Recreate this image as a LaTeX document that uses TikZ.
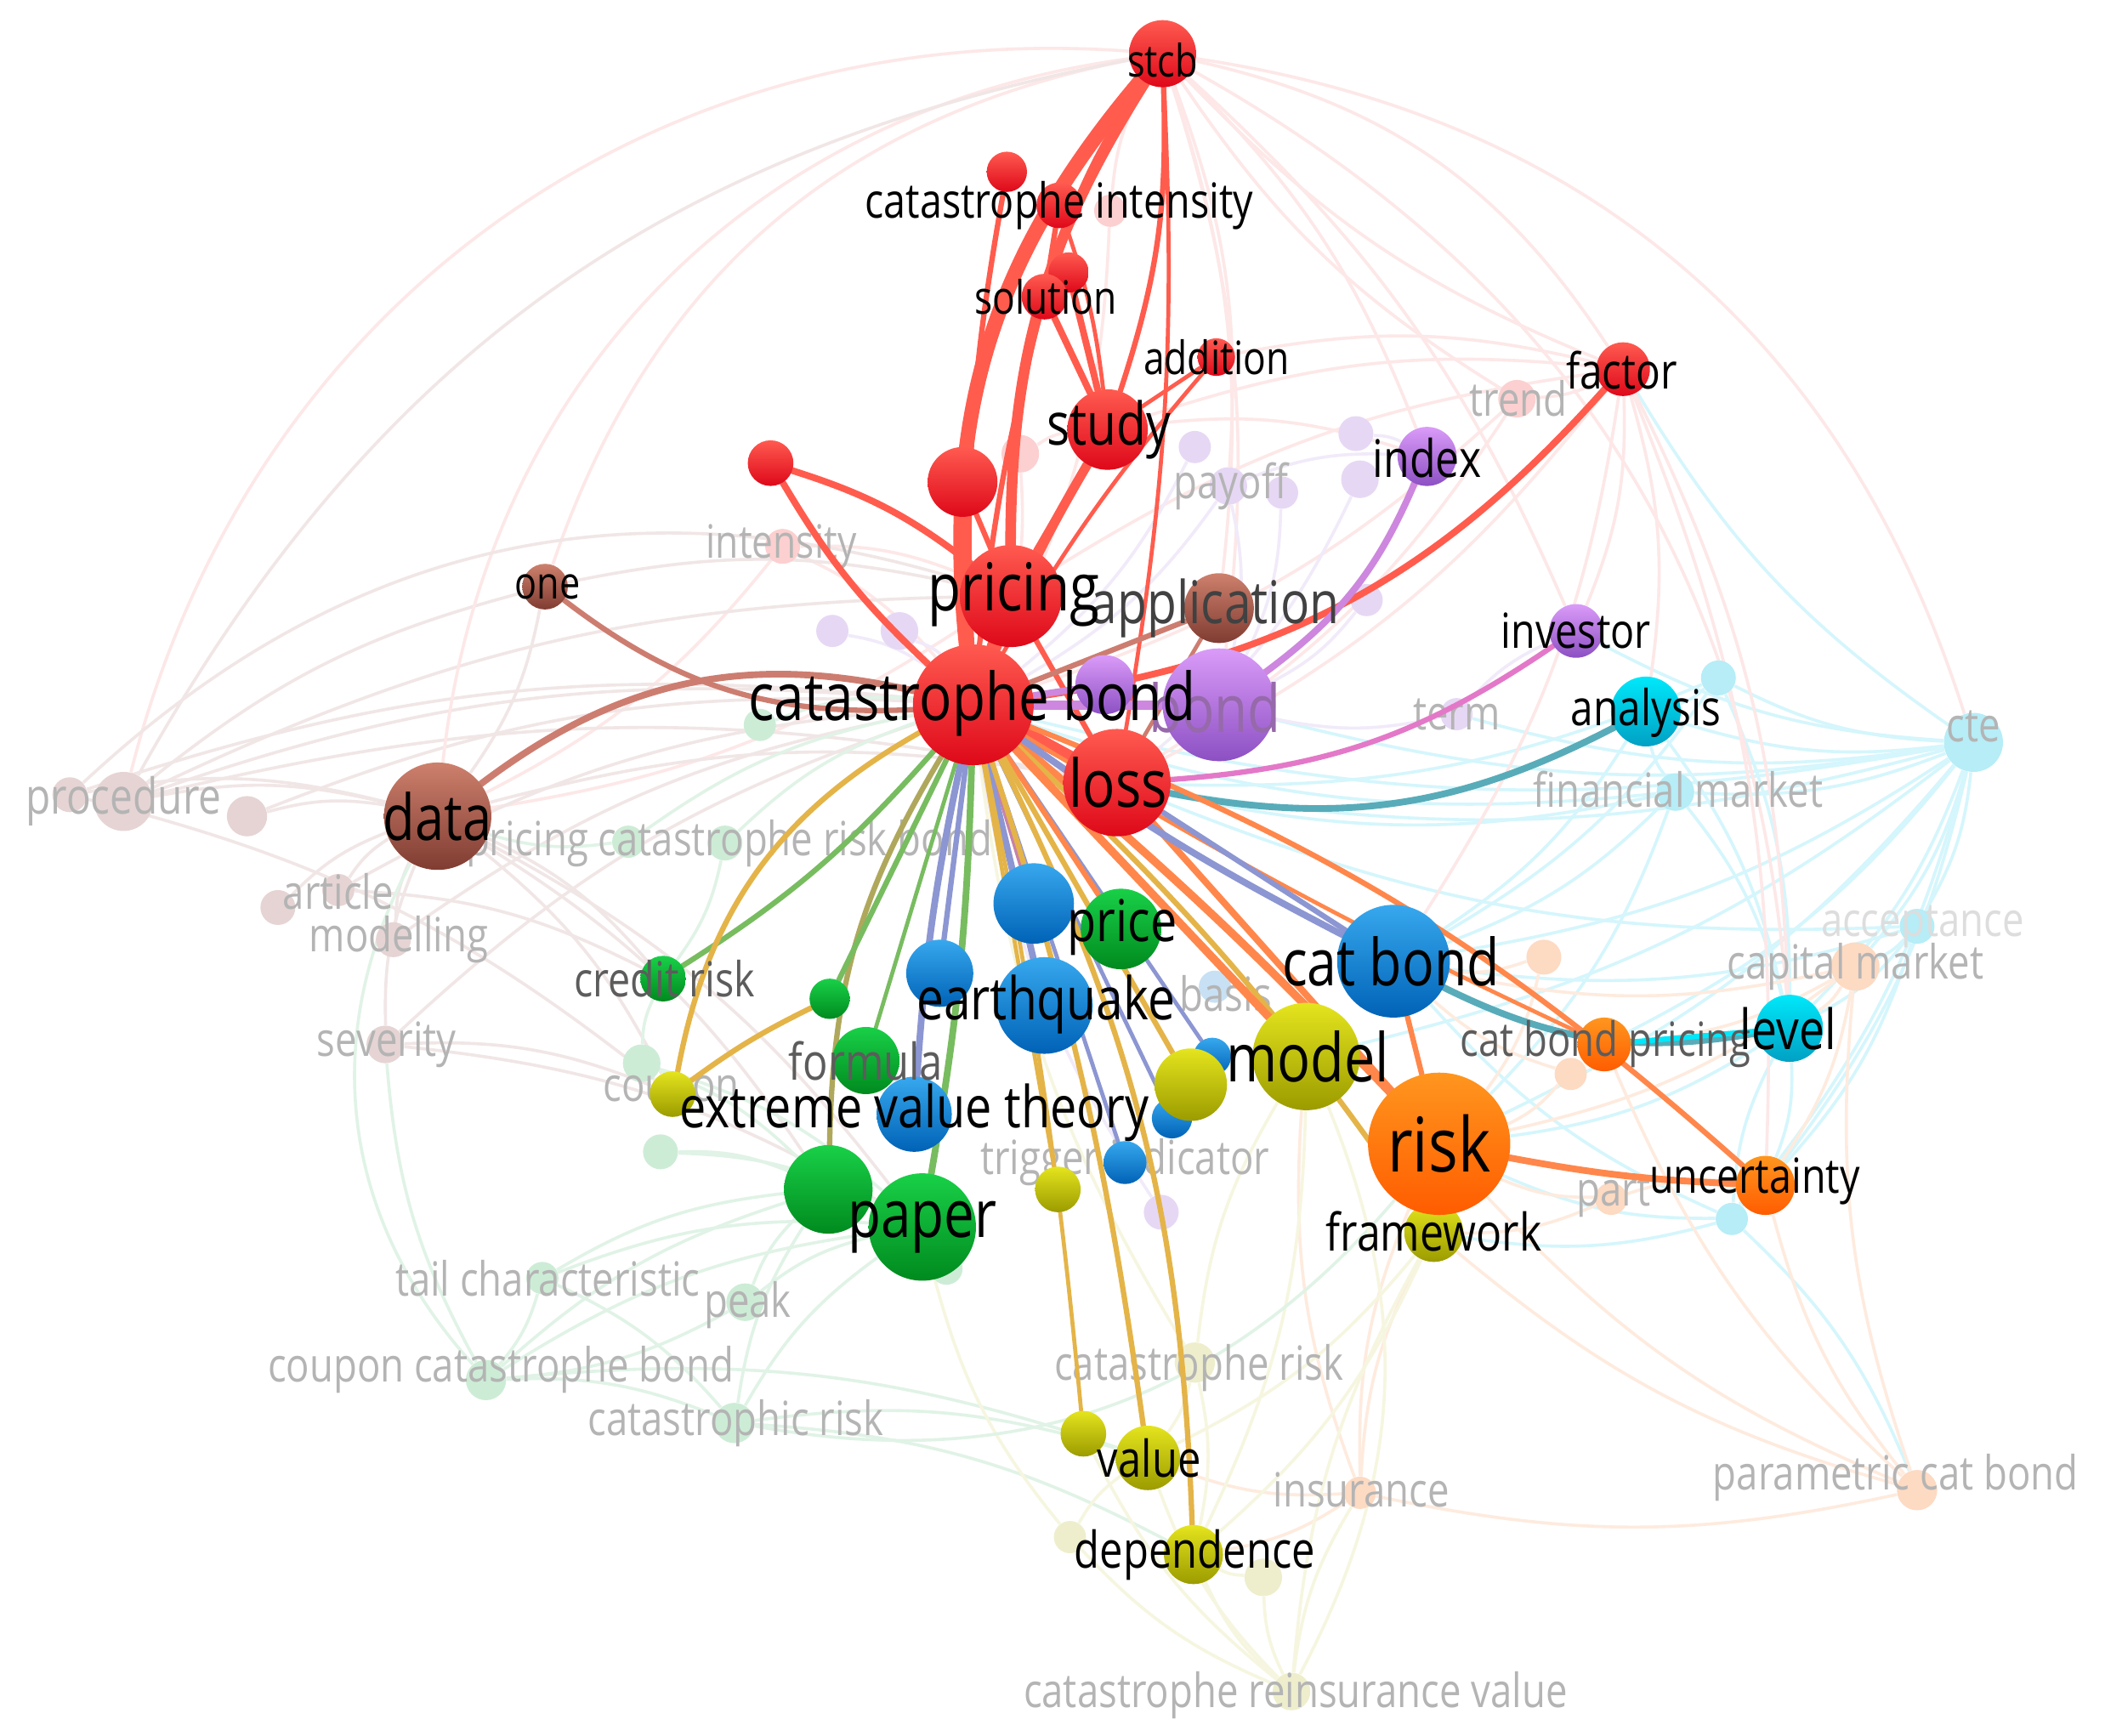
\documentclass[tikz,border=0pt]{standalone}
\usepackage{fontspec}
\newfontfamily\labfont[FakeStretch=0.82]{Open Sans}
\newcommand\LB[1]{\labfont\fontsize{#1pt}{#1pt}\selectfont}
\pgfdeclarelayer{bgw}\pgfdeclarelayer{fedge}\pgfdeclarelayer{fnode}\pgfdeclarelayer{sedge}\pgfdeclarelayer{labels}
\pgfsetlayers{bgw,fedge,fnode,sedge,main,labels}
% node colours (top / bottom)
\definecolor{RT}{RGB}{255,90,80}\definecolor{RB}{RGB}{222,8,25}
\definecolor{PT}{RGB}{218,155,248}\definecolor{PB}{RGB}{140,80,195}
\definecolor{BrT}{RGB}{205,128,108}\definecolor{BrB}{RGB}{128,60,50}
\definecolor{CT}{RGB}{0,232,250}\definecolor{CB}{RGB}{0,160,195}
\definecolor{OT}{RGB}{255,150,30}\definecolor{OB}{RGB}{255,92,0}
\definecolor{BlT}{RGB}{55,168,238}\definecolor{BlB}{RGB}{0,98,182}
\definecolor{GT}{RGB}{25,208,72}\definecolor{GB}{RGB}{0,138,30}
\definecolor{YT}{RGB}{228,228,30}\definecolor{YB}{RGB}{155,155,0}
% faint node colours
\definecolor{RF}{RGB}{252,208,208}\definecolor{PF}{RGB}{230,216,244}
\definecolor{BrF}{RGB}{230,212,212}\definecolor{CF}{RGB}{182,237,247}
\definecolor{OF}{RGB}{253,218,194}\definecolor{BlF}{RGB}{200,224,244}
\definecolor{GF}{RGB}{205,236,214}\definecolor{YF}{RGB}{238,238,205}
% faint edge colours
\definecolor{fR}{RGB}{253,231,231}\definecolor{fP}{RGB}{241,234,249}
\definecolor{fBr}{RGB}{241,230,230}\definecolor{fC}{RGB}{212,246,252}
\definecolor{fO}{RGB}{254,235,222}\definecolor{fG}{RGB}{224,243,230}
\definecolor{fY}{RGB}{246,246,224}
% strong edge colours
\definecolor{eR}{RGB}{255,92,78}\definecolor{eO}{RGB}{255,135,75}
\definecolor{eBr}{RGB}{205,125,112}\definecolor{eP}{RGB}{205,135,222}
\definecolor{ePk}{RGB}{228,120,200}\definecolor{eT}{RGB}{88,172,185}
\definecolor{eBl}{RGB}{140,150,210}\definecolor{eG}{RGB}{120,188,96}
\definecolor{eY}{RGB}{228,180,72}\definecolor{eOl}{RGB}{175,168,92}
\definecolor{eRB}{RGB}{200,130,170}
% label colours
\definecolor{fl}{RGB}{180,180,180}\definecolor{dl}{RGB}{92,92,92}
\definecolor{bl}{RGB}{150,105,170}
\tikzset{
  nd/.style 2 args={circle, draw=none, inner sep=0pt, minimum size=#2*0.04cm, top color=#1T, bottom color=#1B},
  fn/.style 2 args={circle, draw=none, inner sep=0pt, minimum size=#2*0.04cm, fill=#1F},
  lb/.style={font=\LB{#1}, text=black, inner sep=0pt},
  flb/.style={font=\LB{#1}, text=fl, inner sep=0pt},
  se/.style 2 args={draw=#1, line width=#2*0.567pt, line cap=round},
  fe/.style={draw=#1, line width=1.3pt},
}
\begin{document}
\begin{tikzpicture}[x=0.02cm,y=-0.02cm]
\begin{pgfonlayer}{bgw}
\fill[white] (0,0) rectangle (1568,1293);
\end{pgfonlayer}
\useasboundingbox (0,0) rectangle (1568,1293);

% ---------------- faint nodes ----------------
\begin{pgfonlayer}{fnode}
\node[fn={R}{14}] (trend) at (1130,297) {};
\node[fn={R}{14}] (r1) at (760,338) {};
\node[fn={R}{12}] (r2) at (827,157) {};
\node[fn={R}{13}] (inten) at (583,407) {};
\node[fn={P}{12}] (p1) at (890,333) {};
\node[fn={P}{14}] (payoff) at (915,362) {};
\node[fn={P}{12}] (p3) at (955,367) {};
\node[fn={P}{13}] (p4) at (1010,323) {};
\node[fn={P}{14}] (p5) at (1013,357) {};
\node[fn={P}{12}] (p6) at (1018,447) {};
\node[fn={P}{12}] (p7) at (620,470) {};
\node[fn={P}{14}] (p8) at (670,470) {};
\node[fn={P}{12}] (term) at (1085,532) {};
\node[fn={P}{13}] (p9) at (865,903) {};
\node[fn={Br}{13}] (br1) at (52,592) {};
\node[fn={Br}{22}] (proc) at (92,597) {};
\node[fn={Br}{15}] (br3) at (184,608) {};
\node[fn={Br}{13}] (br4) at (207,676) {};
\node[fn={Br}{12}] (article) at (252,663) {};
\node[fn={Br}{13}] (modl) at (293,700) {};
\node[fn={Br}{14}] (sev) at (287,778) {};
\node[fn={C}{22}] (cte) at (1470,553) {};
\node[fn={C}{13}] (c1) at (1280,505) {};
\node[fn={C}{14}] (finm) at (1248,590) {};
\node[fn={C}{13}] (accp) at (1428,690) {};
\node[fn={C}{12}] (c5) at (1290,908) {};
\node[fn={O}{18}] (capm) at (1382,720) {};
\node[fn={O}{13}] (o2) at (1150,713) {};
\node[fn={O}{12}] (o3) at (1170,800) {};
\node[fn={O}{12}] (part) at (1200,893) {};
\node[fn={O}{12}] (ins) at (1013,1112) {};
\node[fn={O}{15}] (param) at (1428,1110) {};
\node[fn={Bl}{12}] (basis) at (905,735) {};
\node[fn={G}{14}] (g1) at (478,792) {};
\node[fn={G}{13}] (g2) at (492,858) {};
\node[fn={G}{12}] (g3) at (468,627) {};
\node[fn={G}{13}] (g4) at (540,628) {};
\node[fn={G}{12}] (g5) at (566,540) {};
\node[fn={G}{12}] (tail) at (404,952) {};
\node[fn={G}{14}] (peak) at (555,970) {};
\node[fn={G}{15}] (ccb) at (362,1028) {};
\node[fn={G}{15}] (catr) at (547,1060) {};
\node[fn={G}{12}] (g10) at (705,945) {};
\node[fn={Y}{15}] (catrisk) at (890,1015) {};
\node[fn={Y}{12}] (y1) at (797,1145) {};
\node[fn={Y}{14}] (y2) at (941,1175) {};
\node[fn={Y}{14}] (crv) at (962,1260) {};
\end{pgfonlayer}

% ---------------- main nodes ----------------
% red
\node[nd={R}{25}] (stcb) at (866,40) {};
\node[nd={R}{15}] (rC) at (750,128) {};
\node[nd={R}{17}] (ci) at (789,153) {};
\node[nd={R}{15}] (rD) at (796,203) {};
\node[nd={R}{17}] (sol) at (778,221) {};
\node[nd={R}{14}] (add) at (906,266) {};
\node[nd={R}{20}] (factor) at (1209,275) {};
\node[nd={R}{30}] (study) at (825,320) {};
\node[nd={R}{17}] (rB) at (574,345) {};
\node[nd={R}{26}] (rA) at (717,359) {};
\node[nd={R}{38}] (pricing) at (753,444) {};
% brown
\node[nd={Br}{17}] (one) at (406,437) {};
\node[nd={Br}{40}] (data) at (326,608) {};
\node[nd={Br}{26}] (app) at (908,453) {};
% purple
\node[nd={P}{22}] (index) at (1063,340) {};
\node[nd={P}{20}] (investor) at (1174,470) {};
\node[nd={R}{45}] (cb) at (725,525) {};
\node[nd={P}{22}] (pS) at (823,510) {};
\node[nd={P}{42}] (bond) at (908,525) {};
\node[nd={R}{40}] (loss) at (832,583) {};
% cyan
\node[nd={C}{26}] (analysis) at (1226,530) {};
\node[nd={C}{25}] (level) at (1333,766) {};
% orange
\node[nd={O}{20}] (cbp) at (1195,778) {};
\node[nd={O}{22}] (unc) at (1315,883) {};
% green / blue / yellow
\node[nd={G}{17}] (credit) at (494,729) {};
\node[nd={G}{15}] (gA) at (618,744) {};
\node[nd={Y}{17}] (coupon) at (501,815) {};
\node[nd={Bl}{30}] (bA) at (770,673) {};
\node[nd={G}{30}] (price) at (835,692) {};
\node[nd={Bl}{25}] (bB) at (700,725) {};
\node[nd={G}{25}] (formula) at (645,790) {};
\node[nd={Bl}{36}] (eq) at (778,749) {};
\node[nd={Bl}{28}] (evt) at (681,830) {};
\node[nd={Bl}{14}] (bC) at (903,787) {};
\node[nd={Bl}{15}] (bD) at (873,833) {};
\node[nd={Bl}{16}] (trig) at (838,866) {};
\node[nd={Y}{27}] (yA) at (887,808) {};
\node[nd={Y}{17}] (yB) at (788,886) {};
\node[nd={G}{33}] (gB) at (617,886) {};
\node[nd={G}{40}] (paper) at (687,914) {};
\node[nd={Bl}{42}] (cbond) at (1038,716) {};
\node[nd={Y}{40}] (model) at (973,787) {};
\node[nd={Y}{22}] (fw) at (1068,918) {};
\node[nd={O}{53}] (risk) at (1072,852) {};
\node[nd={Y}{17}] (yC) at (807,1068) {};
\node[nd={Y}{24}] (value) at (855,1086) {};
\node[nd={Y}{22}] (dep) at (889,1158) {};

% ---------------- faint edges ----------------
\begin{pgfonlayer}{fedge}
\foreach \a/\b/\c in {
 cte/analysis/fC, cte/level/fC, cte/cbond/fC, cte/loss/fC, cte/factor/fC, cte/finm/fC,
 cte/accp/fC, cte/cbp/fC, cte/risk/fC, cte/unc/fC, cte/investor/fC, cte/cb/fC, cte/bond/fC,
 cte/c1/fC, cte/capm/fC, cte/model/fC, cte/c5/fC, cte/term/fC,
 finm/cb/fC, finm/loss/fC, finm/level/fC, finm/cbond/fC, finm/analysis/fC, finm/risk/fC,
 accp/level/fC, accp/capm/fC, accp/cbond/fC, accp/unc/fC, accp/loss/fC,
 c1/analysis/fC, c1/loss/fC, c1/cbond/fC, c1/level/fC,
 c5/unc/fC, c5/level/fC, c5/risk/fC, c5/param/fC, c5/fw/fC, c5/cbond/fC,
 analysis/level/fC, analysis/cbond/fC, level/risk/fC, level/unc/fC,
 param/unc/fO, param/risk/fO, param/capm/fO, param/ins/fO, param/fw/fO, param/cbp/fO,
 ins/dep/fO, ins/risk/fO, ins/value/fO, ins/fw/fO, ins/model/fO,
 capm/level/fO, capm/cbp/fO, capm/risk/fO, capm/unc/fO, capm/cbond/fO,
 part/risk/fO, part/unc/fO, part/fw/fO, o2/cbond/fO, o2/risk/fO, o3/risk/fO, o3/cbond/fO,
 factor/stcb/fR, factor/loss/fR, factor/level/fR, factor/analysis/fR, factor/investor/fR,
 factor/trend/fR, factor/cbond/fR, factor/unc/fR, trend/cb/fR, trend/loss/fR, trend/stcb/fR,
 stcb/index/fR, stcb/investor/fR, stcb/payoff/fR, stcb/app/fR, stcb/bond/fR,
 r1/cb/fR, r1/study/fR, r2/stcb/fR, r2/cb/fR, inten/cb/fR, inten/pricing/fR, inten/data/fR,
 study/factor/fR, study/index/fR, pricing/factor/fR, add/factor/fR, pricing/data/fR,
 proc/data/fBr, proc/cb/fBr, proc/one/fBr, proc/loss/fBr, proc/pricing/fBr,
 br1/data/fBr, br1/coupon/fBr, br1/cb/fBr, br3/data/fBr, br3/cb/fBr, br4/data/fBr,
 article/data/fBr, article/cb/fBr, article/credit/fBr, modl/data/fBr, modl/cb/fBr,
 sev/data/fBr, sev/paper/fBr, sev/coupon/fBr, sev/cb/fBr, one/data/fBr, one/pricing/fBr,
 data/credit/fBr, data/coupon/fBr, data/paper/fBr, data/loss/fBr, data/gB/fBr,
 g1/credit/fG, g1/paper/fG, g1/gB/fG, g2/paper/fG, g2/gB/fG, tail/paper/fG, tail/ccb/fG, tail/gB/fG,
 peak/paper/fG, peak/ccb/fG, peak/gB/fG, ccb/paper/fG, ccb/catr/fG, ccb/gB/fG, ccb/sev/fG,
 catr/paper/fG, catr/gB/fG, catr/value/fG, g3/cb/fG, g4/cb/fG, g5/cb/fG, g10/paper/fG,
 tail/catr/fG, g4/credit/fG, g3/data/fG, catr/dep/fG, ccb/value/fG,
 catrisk/value/fY, catrisk/dep/fY, catrisk/cb/fY, crv/dep/fY, crv/value/fY, crv/yC/fY,
 crv/y2/fY, crv/y1/fY, crv/ins/fY, y1/value/fY, y2/dep/fY, catrisk/model/fY, crv/fw/fY,
 y1/paper/fY, fw/dep/fY, fw/value/fY, model/dep/fY,
 payoff/cb/fP, payoff/bond/fP, payoff/index/fP, p1/cb/fP, p4/index/fP, term/bond/fP,
 term/investor/fP, p6/bond/fP, p7/cb/fP, p8/cb/fP, p9/cb/fP, p3/bond/fP, p5/loss/fP}
 { \draw[fe=\c] (\a) to[bend left=12] (\b); }
\draw[fe=fR] (stcb) to[bend right=38] (data);
\draw[fe=fR] (stcb) to[bend right=30] (one);
\draw[fe=fR] (stcb) to[bend right=40] (proc);
\draw[fe=fR] (stcb) to[bend left=32] (cte);
\draw[fe=fR] (stcb) to[bend left=22] (factor);
\draw[fe=fR] (stcb) to[bend left=28] (level);
\draw[fe=fBr] (proc) to[bend left=25] (stcb);
\draw[fe=fBr] (br1) to[bend left=30] (pricing);
\draw[fe=fG] (ccb) to[bend left=35] (data);
\draw[fe=fG] (catr) to[bend right=30] (risk);
\draw[fe=fY] (crv) to[bend right=25] (model);
\end{pgfonlayer}

% ---------------- strong edges ----------------
\begin{pgfonlayer}{sedge}
% red
\draw[se={eR}{11}] (cb) to[bend left=23] (stcb);
\draw[se={eR}{8}] (pricing) to[bend left=16] (stcb);
\draw[se={eR}{6}] (sol) to[bend left=8] (stcb);
\draw[se={eR}{4}] (study) to[bend right=10] (stcb);
\draw[se={eR}{3}] (loss) to[bend right=6] (stcb);
\draw[se={eR}{4}] (rC) to[bend right=6] (cb);
\draw[se={eR}{4}] (ci) -- (sol);
\draw[se={eR}{3}] (ci) to[bend left=6] (study);
\draw[se={eR}{5}] (rD) -- (study);
\draw[se={eR}{4}] (sol) to[bend right=4] (cb);
\draw[se={eR}{5}] (sol) -- (study);
\draw[se={eR}{7}] (study) to[bend right=4] (cb);
\draw[se={eR}{6}] (study) -- (pricing);
\draw[se={eR}{3}] (add) to[bend right=5] (cb);
\draw[se={eR}{3}] (add) -- (study);
\draw[se={eR}{6}] (rA) -- (cb);
\draw[se={eR}{4}] (rA) -- (pricing);
\draw[se={eR}{5}] (rB) to[bend right=8] (cb);
\draw[se={eR}{5}] (rB) to[bend left=10] (pricing);
\draw[se={eR}{10}] (pricing) -- (cb);
\draw[se={eR}{4}] (pricing) -- (loss);
\draw[se={eR}{10}] (loss) -- (cb);
\draw[se={eR}{5}] (cb) to[bend right=20] (factor);
\draw[se={eBr}{5}] (cb) to[bend right=25] (data);
\draw[se={eBr}{4}] (one) to[bend right=20] (cb);
\draw[se={eBr}{4}] (app) -- (cb);
\draw[se={eBr}{3}] (app) -- (loss);
% purple
\draw[se={eP}{7}] (cb) -- (bond);
\draw[se={eP}{5}] (pS) -- (cb);
\draw[se={eP}{5}] (bond) to[bend right=15] (index);
\draw[se={ePk}{4}] (loss) to[bend right=15] (investor);
% cyan
\draw[se={eT}{5}] (loss) to[bend right=19] (analysis);
\draw[se={eT}{5}] (cbond) to[bend right=18] (level);
\draw[se={CT}{4}] (cbp) -- (level);
% orange
\draw[se={eO}{4}] (cb) to[bend left=10] (unc);
\draw[se={eO}{5}] (risk) to[bend right=4] (unc);
\draw[se={eO}{6}] (cb) to[bend left=3] (risk);
\draw[se={eO}{5}] (loss) -- (risk);
\draw[se={eO}{3}] (cb) to[bend right=3] (cbp);
\draw[se={eO}{4}] (cbond) -- (risk);
\draw[se={eY}{4}] (cb) to[bend left=6] (fw);
% blue
\draw[se={eBl}{5}] (cb) to[bend right=4] (cbond);
\draw[se={eBl}{4}] (loss) -- (cbond);
\draw[se={eRB}{5}] (cb) -- (bA);
\draw[se={eBl}{4}] (cb) -- (bB);
\draw[se={eBl}{5}] (cb) -- (eq);
\draw[se={eBl}{5}] (cb) to[bend right=4] (evt);
\draw[se={eBl}{3}] (cb) -- (bC);
\draw[se={eBl}{3}] (cb) -- (bD);
\draw[se={eBl}{3}] (cb) -- (trig);
% green
\draw[se={eO}{4}] (cb) -- (price);
\draw[se={eG}{4}] (cb) to[bend left=8] (credit);
\draw[se={eOl}{4}] (cb) to[bend right=15] (gB);
\draw[se={eG}{4}] (cb) -- (gA);
\draw[se={eG}{3}] (cb) -- (formula);
\draw[se={eG}{5}] (cb) to[bend left=4] (paper);
\draw[se={eY}{4}] (coupon) to[bend left=5] (gA);
% yellow
\draw[se={eY}{4}] (cb) to[bend right=25] (coupon);
\draw[se={eO}{6}] (cb) -- (model);
\draw[se={eY}{4}] (cb) -- (yA);
\draw[se={eY}{3}] (cb) -- (yB);
\draw[se={eY}{3}] (cb) to[bend left=3] (yC);
\draw[se={eY}{4}] (cb) to[bend left=5] (value);
\draw[se={eY}{4}] (cb) to[bend left=12] (dep);
\end{pgfonlayer}

% ---------------- labels ----------------
\begin{pgfonlayer}{fnode}
\node[flb=21] (l-proc) at (92,597) {procedure};
\node[flb=20] (l-pcrb) at (543,628) {pricing catastrophe risk bond};
\node[flb=20] (l-art) at (252,664) {article};
\node[flb=20] (l-modl) at (297,700) {modelling};
\node[flb=20] (l-sev) at (288,778) {severity};
\node[flb=19.5] (l-inten) at (582,407) {intensity};
\node[flb=20] (l-payoff) at (917,362) {payoff};
\node[flb=20] (l-term) at (1085,532) {term};
\node[flb=20] (l-trend) at (1131,297) {trend};
\node[flb=20] (l-cte) at (1470,541) {cte};
\node[flb=20] (l-finm) at (1250,588) {financial market};
\node[flb=20, text=fl!45] (l-accp) at (1432,690) {acceptance};
\node[flb=20] (l-capm) at (1382,720) {capital market};
\node[flb=20] (l-part) at (1202,891) {part};
\node[flb=20] (l-coupon) at (500,815) {coupon};
\node[flb=20] (l-basis) at (913,740) {basis};
\node[flb=20] (l-trig) at (838,866) {trigger indicator};
\node[flb=20] (l-tail) at (408,952) {tail characteristic};
\node[flb=20] (l-peak) at (557,972) {peak};
\node[flb=20] (l-ccb) at (373,1020) {coupon catastrophe bond};
\node[flb=20] (l-catr) at (548,1060) {catastrophic risk};
\node[flb=20] (l-catrisk) at (893,1019) {catastrophe risk};
\node[flb=20] (l-ins) at (1014,1110) {insurance};
\node[flb=20] (l-crv) at (965,1263) {catastrophe reinsurance value};
\node[flb=20] (l-param) at (1412,1101) {parametric cat bond};
\end{pgfonlayer}

\begin{pgfonlayer}{labels}
\node[lb=28, text=bl] (l-bond) at (905,527) {bond};
\node[lb=28] (l-cb) at (724,524) {catastrophe bond};
\node[lb=28] (l-loss) at (833,583) {loss};
\node[lb=25, text=dl!70!black] (l-app) at (905,453) {application};
\node[lb=28] (l-pricing) at (755,443) {pricing};
\node[lb=25] (l-study) at (826,320) {study};
\node[lb=19] (l-stcb) at (866,45) {stcb};
\node[lb=20.5] (l-ci) at (789,153) {catastrophe intensity};
\node[lb=19.5] (l-sol) at (779,221) {solution};
\node[lb=19.5] (l-add) at (906,266) {addition};
\node[lb=21] (l-factor) at (1208,276) {factor};
\node[lb=22] (l-index) at (1063,341) {index};
\node[lb=20.5] (l-inv) at (1174,470) {investor};
\node[lb=21] (l-analysis) at (1226,531) {analysis};
\node[lb=19] (l-one) at (408,437) {one};
\node[lb=27] (l-data) at (326,608) {data};
\node[lb=20.5, text=dl] (l-credit) at (495,729) {credit risk};
\node[lb=24.5] (l-price) at (836,691) {price};
\node[lb=25] (l-eq) at (779,748) {earthquake};
\node[lb=21.5, text=dl] (l-formula) at (645,790) {formula};
\node[lb=24.5] (l-evt) at (681,829) {extreme value theory};
\node[lb=28.5] (l-model) at (974,787) {model};
\node[lb=27.5] (l-cbond) at (1036,716) {cat bond};
\node[lb=20, text=dl] (l-cbp) at (1196,778) {cat bond pricing};
\node[lb=23.5] (l-level) at (1332,766) {level};
\node[lb=32] (l-risk) at (1072,852) {risk};
\node[lb=22] (l-fw) at (1068,917) {framework};
\node[lb=20.5] (l-unc) at (1307,880) {uncertainty};
\node[lb=28] (l-paper) at (687,914) {paper};
\node[lb=21.5] (l-value) at (856,1086) {value};
\node[lb=21.5] (l-dep) at (890,1158) {dependence};
\end{pgfonlayer}
\end{tikzpicture}
\end{document}
